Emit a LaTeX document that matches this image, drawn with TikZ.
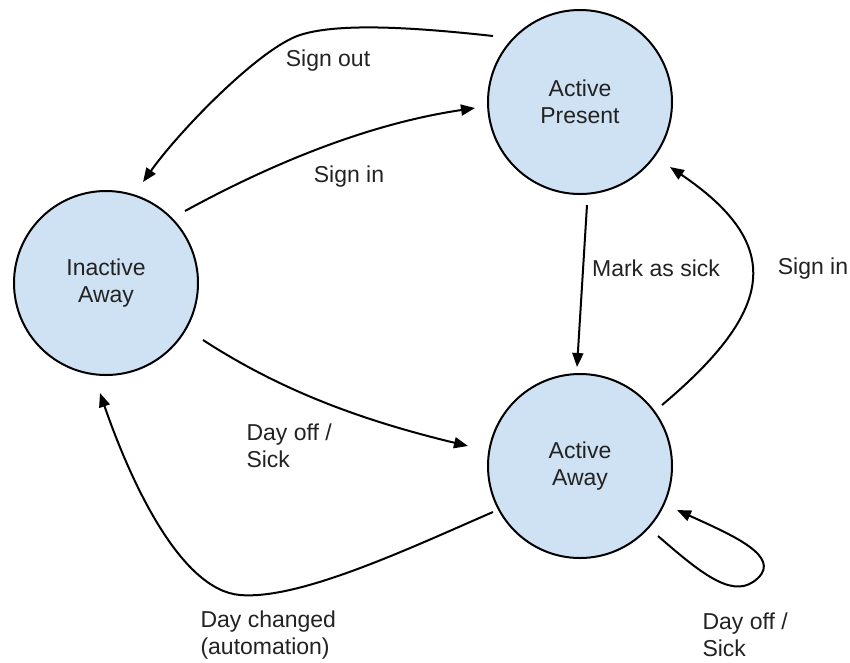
\documentclass[tikz,border=0pt]{standalone}
\usepackage{fontspec}
\setmainfont{Liberation Sans}
\usetikzlibrary{arrows.meta,calc}
\definecolor{statefill}{HTML}{CFE2F3}
\definecolor{textgray}{HTML}{222222}

\begin{document}
\begin{tikzpicture}[x=1pt,y=-1pt,font=\fontsize{23}{27}\selectfont,text=textgray,
  state/.style={circle,draw,line width=2pt,fill=statefill,minimum size=184pt,inner sep=0pt,align=center},
  trans/.style={line width=2pt,-{Triangle[length=14pt,width=11pt]}},
  lbl/.style={align=left}]
\useasboundingbox (0,0) rectangle (850,662);
\node (present) [state] at (580,102) {Active\\Present};
\node (inactive) [state] at (106,283) {Inactive\\Away};
\node (away) [state] at (580,466) {Active\\Away};
\draw[trans] ($(present)+(-87,-66)$) .. controls (420,28) and (340,22) .. (300,35)
  .. controls (260,48) and (180,130) .. ($(inactive)+(37,-101)$);
\draw[trans] ($(inactive)+(79,-72)$) .. controls (260,170) and (360,125) .. ($(present)+(-105,6)$);
\draw[trans] ($(present)+(7,103)$) -- ($(away)+(-3,-99)$);
\draw[trans] ($(away)+(82,-61)$) .. controls (775,310) and (785,245) .. ($(present)+(90,65)$);
\draw[trans] ($(inactive)+(97,57)$) .. controls (280,390) and (360,420) .. ($(away)+(-112,-20)$);
\draw[trans] ($(away)+(-87,46)$) .. controls (410,548) and (300,600) .. (240,595)
  .. controls (180,590) and (130,480) .. ($(inactive)+(-6,110)$);
% self loop on active away
\draw[trans] ($(away)+(78,70)$) .. controls (705,577) and (735,600) .. (758,578)
  .. controls (781,556) and (732,535) .. ($(away)+(97,44)$);
\node (signout) at (328,61) {Sign out};
\node (signin1) at (349,177) {Sign in};
\node (marksick) at (656,268) {Mark as sick};
\node (signin2) at (813,269) {Sign in};
\node (dayoff1) [lbl,anchor=west] at (243,446) {Day off /\\Sick};
\node (daychanged) [lbl,anchor=west] at (197,635) {Day changed\\(automation)};
\node (dayoff2) [lbl,anchor=west] at (699,635) {Day off /\\Sick};
\end{tikzpicture}
\end{document}
